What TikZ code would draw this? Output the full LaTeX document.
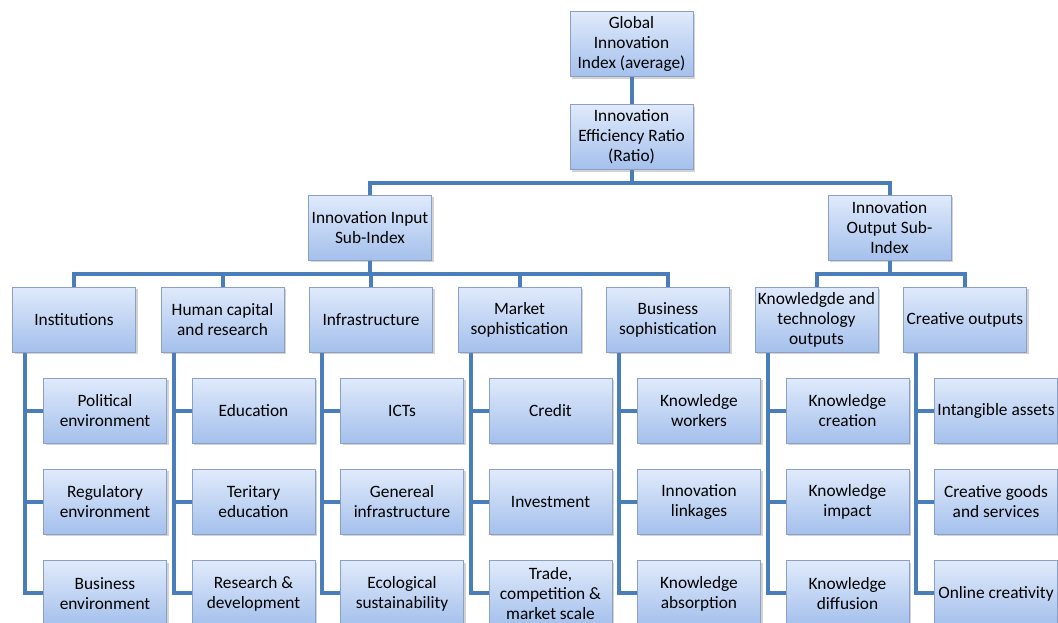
\documentclass[tikz,border=0pt]{standalone}
\usepackage{fontspec}
\setmainfont{Carlito}
\usetikzlibrary{positioning,shadows,backgrounds}

\definecolor{linkblue}{RGB}{74,126,187}
\definecolor{boxtop}{RGB}{224,234,251}
\definecolor{boxbottom}{RGB}{164,192,236}
\definecolor{boxline}{RGB}{138,160,196}

\begin{document}
\begin{tikzpicture}[x=0.75pt,y=-0.75pt]
  \tikzset{
    node distance=69.75pt,
    every node/.style={rectangle,draw=boxline,line width=0.75pt,
      top color=boxtop,bottom color=boxbottom,
      minimum width=92.25pt,minimum height=48.75pt,inner sep=1pt,align=center,
      font=\fontsize{13}{15}\selectfont,
      drop shadow={shadow xshift=1.5pt,shadow yshift=-1.5pt,opacity=0.35}},
    link/.style={draw=linkblue,line width=3pt}
  }
  \useasboundingbox (0,0) rectangle (1058,622);
  \clip (0,0) rectangle (1058,622);

  % top of the tree
  \node (glob) at (631.5,44) {Global\\Innovation\\Index (average)};
  \node[below of=glob] (eff) {Innovation\\Efficiency Ratio\\(Ratio)};
  \node (inp) at (370,227.5) {Innovation Input\\Sub-Index};
  \node (outp) at (889.5,227.5) {Innovation\\Output Sub-\\Index};

  % pillars
  \node (inst) at (74,319.5) {Institutions};
  \node[node distance=111.375pt,right of=inst] (hum) {Human capital\\and research};
  \node[node distance=111.375pt,right of=hum] (infra) {Infrastructure};
  \node[node distance=111.375pt,right of=infra] (mkt) {Market\\sophistication};
  \node[node distance=111.375pt,right of=mkt] (bus) {Business\\sophistication};
  \node[node distance=111.375pt,right of=bus] (kt) {Knowledgde and\\technology\\outputs};
  \node[node distance=111.375pt,right of=kt] (cre) {Creative outputs};

  % sub-pillars
  \node[node distance=68.25pt,below of=inst,xshift=23.25pt] (pol) {Political\\environment};
  \node[node distance=68.6pt,below of=pol] (reg) {Regulatory\\environment};
  \node[node distance=68.6pt,below of=reg] (benv) {Business\\environment};

  \node[node distance=68.25pt,below of=hum,xshift=23.25pt] (edu) {Education};
  \node[node distance=68.6pt,below of=edu] (ter) {Teritary\\education};
  \node[node distance=68.6pt,below of=ter] (rnd) {Research \&\\development};

  \node[node distance=68.25pt,below of=infra,xshift=23.25pt] (ict) {ICTs};
  \node[node distance=68.6pt,below of=ict] (gen) {Genereal\\infrastructure};
  \node[node distance=68.6pt,below of=gen] (eco) {Ecological\\sustainability};

  \node[node distance=68.25pt,below of=mkt,xshift=23.25pt] (cred) {Credit};
  \node[node distance=68.6pt,below of=cred] (inv) {Investment};
  \node[node distance=68.6pt,below of=inv] (trade) {Trade,\\competition \&\\market scale};

  \node[node distance=68.25pt,below of=bus,xshift=23.25pt] (kw) {Knowledge\\workers};
  \node[node distance=68.6pt,below of=kw] (link) {Innovation\\linkages};
  \node[node distance=68.6pt,below of=link] (kabs) {Knowledge\\absorption};

  \node[node distance=68.25pt,below of=kt,xshift=23.25pt] (kcr) {Knowledge\\creation};
  \node[node distance=68.6pt,below of=kcr] (kimp) {Knowledge\\impact};
  \node[node distance=68.6pt,below of=kimp] (kdif) {Knowledge\\diffusion};

  \node[node distance=68.25pt,below of=cre,xshift=23.25pt] (intg) {Intangible assets};
  \node[node distance=68.6pt,below of=intg] (cgs) {Creative goods\\and services};
  \node[node distance=68.6pt,below of=cgs] (onl) {Online creativity};

  % connectors
  \begin{scope}[on background layer]
    \draw[link] (glob) -- (eff);
    \draw[link] (eff.south) -- ++(0,12.5) -| (inp.north);
    \draw[link] (eff.south) -- ++(0,12.5) -| (outp.north);

    \draw[link] (inp.south) -- ++(0,13.5) -| (inst.north);
    \draw[link] (inp.south) -- ++(0,13.5) -| (hum.north);
    \draw[link] (inp.south) -- ++(0,13.5) -| (infra.north);
    \draw[link] (inp.south) -- ++(0,13.5) -| (mkt.north);
    \draw[link] (inp.south) -- ++(0,13.5) -| (bus.north);
    \draw[link] (outp.south) -- ++(0,13.5) -| (kt.north);
    \draw[link] (outp.south) -- ++(0,13.5) -| (cre.north);

    \draw[link] ([xshift=10pt]inst.south west) |- (pol.west);
    \draw[link] ([xshift=10pt]inst.south west) |- (reg.west);
    \draw[link] ([xshift=10pt]inst.south west) |- (benv.west);
    \draw[link] ([xshift=10pt]hum.south west) |- (edu.west);
    \draw[link] ([xshift=10pt]hum.south west) |- (ter.west);
    \draw[link] ([xshift=10pt]hum.south west) |- (rnd.west);
    \draw[link] ([xshift=10pt]infra.south west) |- (ict.west);
    \draw[link] ([xshift=10pt]infra.south west) |- (gen.west);
    \draw[link] ([xshift=10pt]infra.south west) |- (eco.west);
    \draw[link] ([xshift=10pt]mkt.south west) |- (cred.west);
    \draw[link] ([xshift=10pt]mkt.south west) |- (inv.west);
    \draw[link] ([xshift=10pt]mkt.south west) |- (trade.west);
    \draw[link] ([xshift=10pt]bus.south west) |- (kw.west);
    \draw[link] ([xshift=10pt]bus.south west) |- (link.west);
    \draw[link] ([xshift=10pt]bus.south west) |- (kabs.west);
    \draw[link] ([xshift=10pt]kt.south west) |- (kcr.west);
    \draw[link] ([xshift=10pt]kt.south west) |- (kimp.west);
    \draw[link] ([xshift=10pt]kt.south west) |- (kdif.west);
    \draw[link] ([xshift=10pt]cre.south west) |- (intg.west);
    \draw[link] ([xshift=10pt]cre.south west) |- (cgs.west);
    \draw[link] ([xshift=10pt]cre.south west) |- (onl.west);
  \end{scope}
\end{tikzpicture}
\end{document}
